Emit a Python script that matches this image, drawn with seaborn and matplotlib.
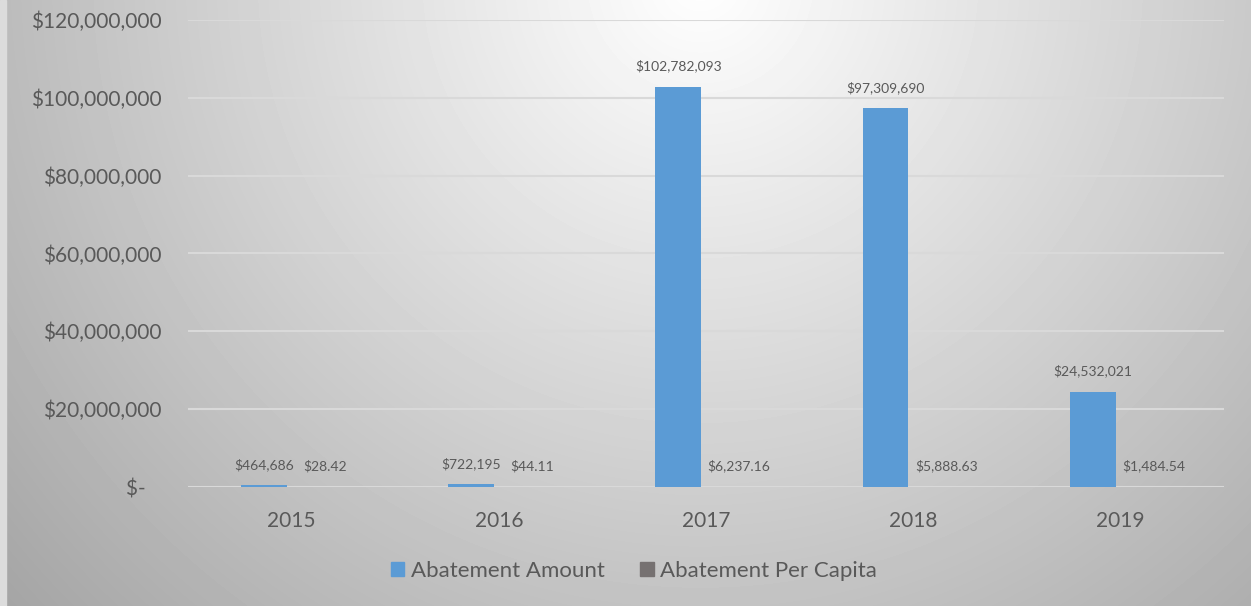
import numpy as np
import pandas as pd
import seaborn as sns
import matplotlib.pyplot as plt
from matplotlib.patches import Patch, Rectangle
from matplotlib.ticker import FuncFormatter

# values
years = ['2015', '2016', '2017', '2018', '2019']
abatement_amount = [464686, 722195, 102782093, 97309690, 24532021]
abatement_per_capita = [28.42, 44.11, 6237.16, 5888.63, 1484.54]
series_names = ['Abatement Amount', 'Abatement Per Capita']
series_colors = ['#5B9BD5', '#767171']

df = pd.DataFrame({
    'year': years * 2,
    'value': abatement_amount + abatement_per_capita,
    'series': [series_names[0]] * 5 + [series_names[1]] * 5,
})

sns.set_style('white')
plt.rcParams['font.family'] = ['Lato', 'DejaVu Sans']
text_color = '#595959'

fig = plt.figure(figsize=(12.51, 6.06), dpi=100)

# radial grey background, lightest at the top centre
W, H = 1251, 606
yy, xx = np.mgrid[0:H, 0:W]
dist = np.hypot(xx - 700, yy + 20)
t = np.clip(dist / 930.0, 0, 1)
shade = (255 - 90 * t) / 255.0
bg = fig.add_axes([0, 0, 1, 1], zorder=-10)
bg.imshow(shade, cmap='gray', vmin=0, vmax=1, aspect='auto', extent=[0, 1, 0, 1])
bg.add_patch(Rectangle((0, 0), 6 / W, 1, color='#dcdcdc', transform=bg.transAxes))
bg.axis('off')

ax = fig.add_axes([188 / W, 1 - 487 / H, (1224 - 188) / W, (487 - 20) / H])
ax.patch.set_alpha(0)

sns.barplot(data=df, x='year', y='value', hue='series', palette=series_colors,
            width=0.534, gap=0.17, ax=ax, legend=False, saturation=1, linewidth=0)

ax.set_ylim(0, 120000000)
ax.set_yticks(np.arange(0, 120000001, 20000000))
ax.yaxis.set_major_formatter(FuncFormatter(
    lambda v, p: '$-   ' if v == 0 else '${:,.0f}'.format(v)))
ax.grid(axis='y', color='#d9d9d9', linewidth=1.5)
ax.set_axisbelow(True)
for s in ax.spines.values():
    s.set_visible(False)
ax.tick_params(axis='both', length=0, labelsize=15, labelcolor=text_color)
ax.tick_params(axis='y', pad=19)
ax.tick_params(axis='x', pad=17)
ax.set_xlabel('')
ax.set_ylabel('')

# data labels
for k, (cont, vals) in enumerate(zip(ax.containers, [abatement_amount, abatement_per_capita])):
    for bar, v in zip(cont, vals):
        if k == 0:
            lab = '${:,.0f}'.format(v)
            dx = 0
        else:
            lab = '${:,.2f}'.format(v)
            dx = 4
        ax.annotate(lab, (bar.get_x() + bar.get_width() / 2, bar.get_height()),
                    xytext=(dx, 15), textcoords='offset points',
                    ha='center', va='center', fontsize=10, color=text_color)

handles = [Patch(color=c, label=n) for c, n in zip(series_colors, series_names)]
fig.legend(handles=handles, loc='center', bbox_to_anchor=(634 / W, 1 - 571 / H), ncol=2,
           frameon=False, fontsize=16, labelcolor=text_color, handlelength=0.6,
           handleheight=0.6, handletextpad=0.3, columnspacing=1.6)

fig.savefig('out.png', dpi=100)
